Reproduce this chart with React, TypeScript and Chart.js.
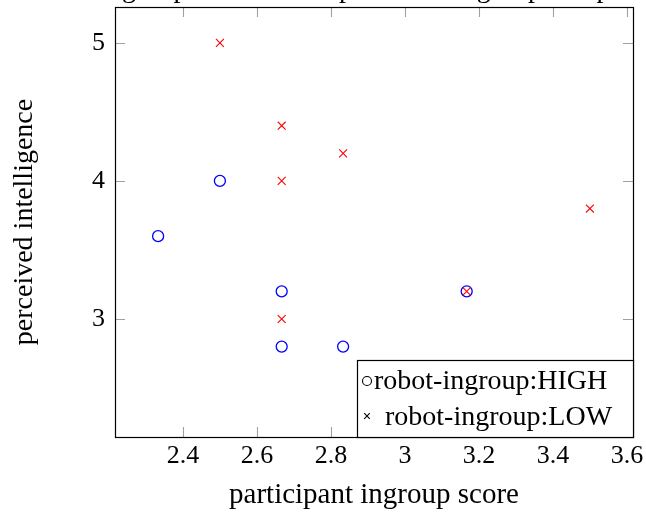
import React, { useEffect, useRef } from "react";
import { Chart, registerables } from "chart.js";

Chart.register(...registerables);

const titleText = "robot-ingroup condition vs perceived ingroup and participant";
const xAxisLabel = "participant ingroup score";
const yAxisLabel = "perceived intelligence";
const seriesNames = ["robot-ingroup:HIGH", "robot-ingroup:LOW"];

const highX = [2.333, 2.5, 2.667, 2.667, 2.833, 3.167];
const highY = [3.6, 4.0, 3.2, 2.8, 2.8, 3.2];
const lowX = [2.5, 2.667, 2.667, 2.833, 2.667, 3.167, 3.5];
const lowY = [5.0, 4.4, 4.0, 4.2, 3.0, 3.2, 3.8];

const xTicks = [2.4, 2.6, 2.8, 3.0, 3.2, 3.4, 3.6];
const yTicks = [3, 4, 5];
const xRange = [2.2165, 3.6165];
const yRange = [2.145, 5.26];

const FONT = "'Liberation Serif', 'Times New Roman', serif";
const HIGH_COLOR = "#0000ff";
const LOW_COLOR = "#ff0000";

const framePlugin = {
  id: "frameAndTicks",
  afterDatasetsDraw(chart: any) {
    const { ctx, chartArea: a, scales } = chart;
    const tl = 10;
    ctx.save();
    ctx.strokeStyle = "#a0a0a0";
    ctx.lineWidth = 1.1;
    ctx.beginPath();
    for (const v of xTicks) {
      const px = Math.round(scales.x.getPixelForValue(v)) + 0.5;
      ctx.moveTo(px, a.top);
      ctx.lineTo(px, a.top + tl);
      ctx.moveTo(px, a.bottom);
      ctx.lineTo(px, a.bottom - tl);
    }
    for (const v of yTicks) {
      const py = Math.round(scales.y.getPixelForValue(v)) + 0.5;
      ctx.moveTo(a.left, py);
      ctx.lineTo(a.left + tl, py);
      ctx.moveTo(a.right, py);
      ctx.lineTo(a.right - tl, py);
    }
    ctx.stroke();
    ctx.strokeStyle = "#000";
    ctx.lineWidth = 1.2;
    ctx.strokeRect(a.left + 0.5, a.top + 0.5, a.right - a.left, a.bottom - a.top);
    ctx.restore();
  },
  afterDraw(chart: any) {
    const { ctx, chartArea: a } = chart;
    ctx.save();
    // title (mostly above the visible page)
    ctx.fillStyle = "#000";
    ctx.font = `28px ${FONT}`;
    ctx.textAlign = "center";
    ctx.textBaseline = "alphabetic";
    ctx.fillText(titleText, (a.left + a.right) / 2, -3);

    // legend box
    const w = 276;
    const h = 77;
    const bx = a.right - w;
    const by = a.bottom - h;
    ctx.fillStyle = "#fff";
    ctx.fillRect(bx, by, w, h);
    ctx.strokeStyle = "#000";
    ctx.lineWidth = 1.2;
    ctx.strokeRect(bx + 0.5, by + 0.5, w, h);

    // row 1
    ctx.lineWidth = 1.1;
    ctx.beginPath();
    ctx.arc(bx + 10, by + 21, 4.5, 0, Math.PI * 2);
    ctx.strokeStyle = "#000";
    ctx.stroke();
    ctx.fillStyle = "#000";
    ctx.textAlign = "left";
    ctx.font = `28px ${FONT}`;
    ctx.fillText(seriesNames[0], bx + 17, by + 29);

    // row 2
    const cx = bx + 10;
    const cy = by + 56;
    const d = 2.8;
    ctx.beginPath();
    ctx.moveTo(cx - d, cy - d);
    ctx.lineTo(cx + d, cy + d);
    ctx.moveTo(cx - d, cy + d);
    ctx.lineTo(cx + d, cy - d);
    ctx.strokeStyle = "#000";
    ctx.stroke();
    ctx.fillText(seriesNames[1], bx + 28, by + 65);
    ctx.restore();
  },
};

const noPad = (s: any) => {
  s.paddingTop = 0;
  s.paddingBottom = 0;
  s.paddingLeft = 0;
  s.paddingRight = 0;
};

export default function App() {
  const ref = useRef<HTMLCanvasElement | null>(null);

  useEffect(() => {
    if (!ref.current) return;
    const chart = new Chart(ref.current, {
      type: "scatter",
      data: {
        datasets: [
          {
            label: seriesNames[0],
            data: highX.map((x, i) => ({ x, y: highY[i] })),
            pointStyle: "circle",
            pointRadius: 5.5,
            pointBorderWidth: 1.3,
            borderColor: HIGH_COLOR,
            backgroundColor: "rgba(0,0,0,0)",
            pointBackgroundColor: "rgba(0,0,0,0)",
            order: 1,
          },
          {
            label: seriesNames[1],
            data: lowX.map((x, i) => ({ x, y: lowY[i] })),
            pointStyle: "crossRot",
            pointRadius: 5.6,
            pointBorderWidth: 1.1,
            borderColor: LOW_COLOR,
            backgroundColor: LOW_COLOR,
            order: 0,
          },
        ],
      },
      options: {
        responsive: false,
        animation: false,
        layout: { padding: { left: 0, right: 13, top: 7, bottom: 0 } },
        plugins: {
          legend: { display: false },
          tooltip: { enabled: false },
          title: { display: false },
        },
        scales: {
          x: {
            type: "linear",
            min: xRange[0],
            max: xRange[1],
            grid: { display: false, drawTicks: false },
            border: { display: false },
            afterBuildTicks: (s: any) => {
              s.ticks = xTicks.map((v) => ({ value: v }));
            },
            afterFit: (s: any) => {
              s.height = 76;
              noPad(s);
            },
            ticks: {
              color: "#000",
              padding: 4,
              font: { family: FONT, size: 26 },
              callback: (v: any) => String(Number(v)),
            },
            title: {
              display: true,
              text: xAxisLabel,
              color: "#000",
              font: { family: FONT, size: 29 },
              padding: { top: 0, bottom: 0 },
            },
          },
          y: {
            type: "linear",
            min: yRange[0],
            max: yRange[1],
            grid: { display: false, drawTicks: false },
            border: { display: false },
            afterBuildTicks: (s: any) => {
              s.ticks = yTicks.map((v) => ({ value: v }));
            },
            afterFit: (s: any) => {
              s.width = 115;
              noPad(s);
            },
            ticks: {
              color: "#000",
              padding: 10,
              font: { family: FONT, size: 26 },
              callback: (v: any) => String(Number(v)),
            },
            title: {
              display: true,
              text: yAxisLabel,
              color: "#000",
              font: { family: FONT, size: 28 },
              padding: { top: 8, bottom: 0 },
            },
          },
        },
      },
      plugins: [framePlugin],
    });
    return () => chart.destroy();
  }, []);

  return (
    <div style={{ position: "fixed", left: 0, top: 0, width: 646, height: 513, background: "#fff" }}>
      <canvas ref={ref} width={646} height={513} style={{ display: "block" }} />
    </div>
  );
}
